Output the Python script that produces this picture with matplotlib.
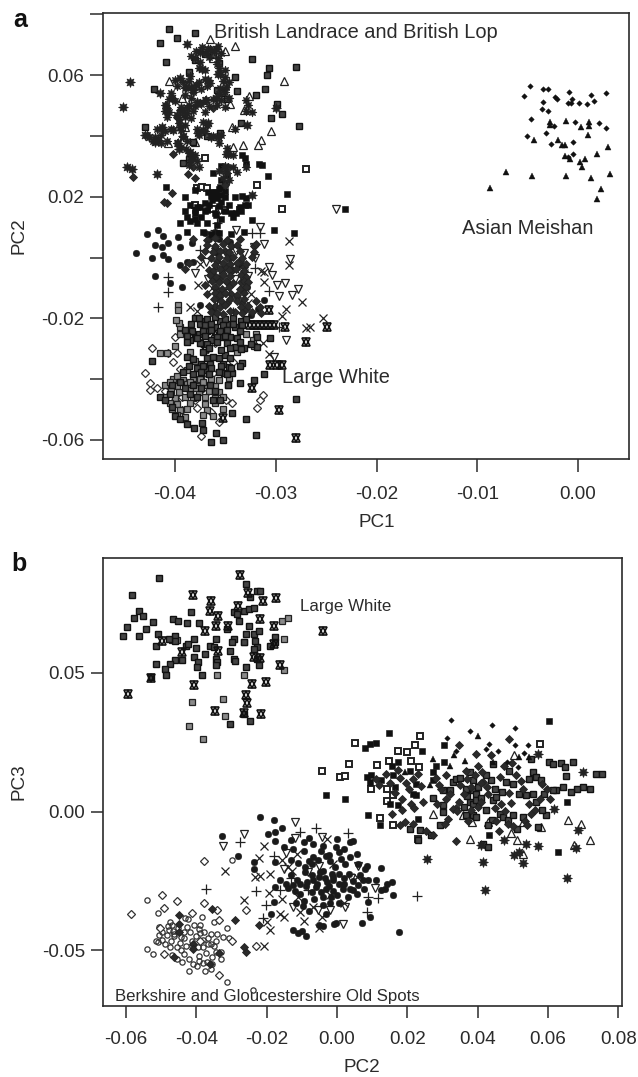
"""Two PCA scatter panels (PC1/PC2 and PC2/PC3) for the pig breed samples."""

import numpy as np
import matplotlib

matplotlib.use("Agg")
import matplotlib.pyplot as plt

plt.rcParams["font.family"] = ["Liberation Sans", "DejaVu Sans"]

W, H = 638, 1077
INK = "#2b2b2b"

# all coordinates below are in units of 1e-3

# panel a
a_meishan_dia = [(-4.8,56.4),(-5.4,53.1),(-3.5,55.5),(-3,55.3),(-2.3,52.9),(-2.05,52.2),(-0.9,54.3),(1.3,53.3),(2.75,54.1),(1.55,51.6),(-3.5,51.1),(-3.6,48.9),(-3,48.3),(-0.6,52),(-1,50.8),(-0.7,50.7),(0.1,50.7),(0.9,50.6),(-4.7,45.6),(-0.3,44.4),(2.1,44.1),(2.8,42.6),(-2.4,43.4),(-3.2,40.9),(-5.1,40),(-2.7,37.4),(-0.5,38),(-0.5,34),(-1,32.9)]
a_meishan_tri = [(-2.8,44.6),(-2.8,43.5),(-1.2,45),(0.3,43),(1.1,44.7),(1.1,43.2),(1,40.3),(-4.4,38.5),(-2,38.7),(-1.6,36.9),(-1.3,36.9),(3,36.5),(1.9,34),(-1.3,33.4),(-0.8,32.3),(0.7,32.5),(0.2,31.4),(0.4,29.6),(-7.1,28.1),(-4.6,26.9),(-1.2,26.8),(1.3,26.2),(3.2,27.4),(2.3,22.4),(-8.7,22.8),(1.9,19.3)]
a_boxed = [(-40.6,75.3),(-39.8,72.1),(-41.5,70.6),(-38,73.7),(-40.9,64.4),(-32.4,65.4),(-30.7,62.4),(-28,62.6),(-30.9,60),(-42.1,55.3),(-34,59.5),(-38.6,61.1),(-33.8,54.7),(-31.1,55.3),(-32,53.3),(-29.9,50.5),(-29.4,47.2),(-30.5,46),(-27.7,43.3),(-43,42.9),(-33.5,44.1),(-35.8,55.1),(-35.6,64),(-37,67),(-36.2,66.5),(-38,65),(-35.3,54),(-34.8,52),(-38.2,38),(-35.5,41),(-36.8,40),(-39.2,31),(-38.6,32.5),
    (-28,-46.6),(-33.6,-41.4),(-33,-53.2),(-32,-58.4),(-35.2,-60),(-36.4,-60.8),(-35.9,-57.6),(-37.3,-54.3),(-37.2,-56.7),(-34.3,-51),(-34.7,-42),(-31.2,-38.3),(-32.2,-40.3),(-33.4,-34.8),(-42.3,-34),(-41.5,-45.8),(-38.8,-54.9),(-38.1,-56.2),(-40.3,-49),(-30.6,-26.6),(-31.9,-29.3),(-34,-29.3),(-33.2,-29.9),(-31.9,-26),
    (-38,-20),(-37.5,-22),(-37,-21),(-38.3,-24),(-37.6,-25),(-36.8,-24),(-36,-23),(-35.5,-21),(-34.8,-22),(-34,-23),(-33.5,-21),(-38.5,-27),(-37.5,-28),(-36.4,-27),(-35.2,-26),(-34.5,-26),(-37.2,-31),(-36.8,-33),(-37.4,-35),(-36.5,-35),(-36.9,-37),(-37.4,-38),(-35.6,-33),(-35,-32),(-34.5,-33),(-35.2,-35),(-34.6,-36),(-35.1,-38),(-34.3,-38),(-39.5,-41),(-40.3,-42),(-39,-43),(-38.2,-42),(-37.4,-43),(-36.5,-42),(-36,-44),(-38.5,-45),(-37.8,-46),(-40.5,-45),(-41,-47),(-36.2,-47),(-35.5,-47),(-40,-52),(-39.5,-53)]
a_top_dark = [(-37.3,69.2),(-36.5,68.6),(-35.7,69.4),(-37.9,67.8),(-36.9,67.2),(-36.1,67.9),(-35.4,67.1),(-38.4,66.3),(-38,65.6),(-36.6,66),(-35.7,65.7),(-37.5,64.3),(-35.8,63.6),(-37.6,62.4),(-37,61.5),(-35.6,62.2),(-35,61.7),(-35.5,60.3),(-35,59.4),(-38.5,59.8),(-40,58.4),(-39.2,57.6),(-38.6,58.2),(-37.6,57.8),(-37,58.6),(-36.5,57.4),(-35.2,58.1),(-34.6,57.6),(-39.8,56.3),(-39,55.6),(-38.4,56.2),(-37.4,55.5),(-36.8,56.4),(-35.5,55.7),(-34.9,56.1),(-40.4,54.2),(-39,53.6),(-38.2,54.4),(-35.6,53.8),(-35,54.3),(-40.6,52.1),(-40,51.6),(-38.4,52.4),(-37,51.8),(-36.2,52.2),(-35.4,51.7),(-34.6,52.3),(-33,51.8),(-41,50.3),(-39.4,49.6),(-38.6,50.2),(-38,49.8),(-37.4,50.4),(-36.6,49.7),(-35.8,50.2),(-35,49.6),(-32.8,50.1),(-41,48.2),(-40.6,47.7),(-39.3,48.4),(-38.8,47.6),(-38.2,48.1),(-37,47.7),(-33,48.2),(-32.4,47.8),(-40.8,46.2),(-39.6,45.7),(-39,46.3),(-38.4,45.8),(-39.6,44.3),(-39,43.7),(-37.2,44.4),(-36.8,43.6),(-41.8,42.2),(-41,41.7),(-40.4,42.4),(-39.4,41.8),(-37.8,42.2),(-37,41.6),(-34,42.3),(-42.8,40.2),(-42,39.6),(-41.4,40.3),(-39.2,39.7),(-37.6,40.2),(-36.2,39.8),(-35.4,40.4),(-42.2,38.2),(-41.4,37.6),(-40.8,38.4),(-39.8,37.8),(-38.8,38.3),(-35.6,37.7),(-39.4,36.2),(-38.9,35.6),(-34.8,36.1),(-38.6,34.3),(-38,33.7),(-34.9,34.2),(-34.2,33.6),(-38.4,32.2),(-37.8,31.7),(-38.6,30.3),(-37.6,29.7),(-35,30.2),(-34.2,29.6),(-33,29.9),(-35.6,28.3),(-34.8,27.7),(-33.8,28.2),(-35.2,26.2),(-34.6,25.6)]
a_band_dark = [(-35,24.3),(-38,22.2),(-36,21.7),(-35.6,22.4),(-35,21.8),(-36.4,20.2),(-35.8,19.7),(-35.4,20.4),(-34,19.8),(-33.4,20.3),(-33,19.7),(-38.5,17.3),(-37.8,16.7),(-36.6,17.4),(-35.6,16.8),(-34.6,17.2),(-33.6,16.7),(-32.8,17.3),(-39,15.2),(-38,14.7),(-37,15.3),(-36,14.8),(-35,15.4),(-34.4,14.7),(-33.5,15.2),(-38.8,13.2),(-38,12.7),(-37.4,13.3),(-35.4,12.8),(-34.2,13.2),(-36.8,11.2),(-35.8,10.7),(-37.2,8.3),(-36.4,7.7),(-35.6,8.2),(-34.4,7.8),(-33.2,8.3)]
a_mid_dark = [(-38.2,6.2),(-36.8,5.7),(-36,6.3),(-34.8,5.8),(-33.6,6.2),(-36.8,4.2),(-36,3.7),(-35.2,4.3),(-34.4,3.8),(-33.8,4.2),(-32.2,3.7),(-32,4.3),(-37,2.2),(-36.2,1.7),(-35.5,2.3),(-34.6,1.8),(-33.6,2.2),(-32.2,1.7),(-37.4,0.2),(-36.4,-0.3),(-35.6,0.3),(-34.8,-0.2),(-34.2,0.2),(-33.4,-0.3),(-32.4,0.2),(-38.6,-1.8),(-36,-2.3),(-35.2,-1.7),(-34.5,-2.2),(-33.8,-1.8),(-33,-2.2),(-39,-3.8),(-36.2,-4.3),(-35.5,-3.7),(-34.6,-4.2),(-33.9,-3.8),(-33.2,-4.3),(-36.5,-5.8),(-35.9,-6.3),(-35.2,-5.7),(-34.5,-6.2),(-33.5,-5.8),(-33,-6.3),(-36.3,-7.8),(-35.6,-8.2),(-34.9,-7.7),(-34.2,-8.3),(-33.2,-7.8),(-32.8,-8.2),(-36,-9.8),(-35.3,-10.3),(-34.6,-9.7),(-33.6,-10.2),(-33,-9.8),(-36,-11.8),(-35.5,-12.2),(-35,-11.7),(-33.8,-12.2),(-33.2,-11.8),(-36.1,-13.8),(-35.4,-14.3),(-34.5,-13.7),(-33.8,-14.2),(-33.2,-13.8),(-32,-14.2),(-36.6,-15.8),(-35.5,-16.3),(-35,-15.7),(-33.5,-16.2),(-32.8,-15.8),(-31.6,-16.2),(-36.4,-17.8),(-35.8,-18.3),(-34.5,-17.7),(-33.4,-18.2),(-32.4,-17.8),(-31.5,-18.2)]
a_low_dark = [(-37.6,-19.8),(-36.8,-20.3),(-36,-19.7),(-35,-20.2),(-34.2,-19.8),(-33,-20.3),(-38.4,-21.8),(-37,-22.3),(-36.4,-21.7),(-35.2,-22.2),(-34.2,-21.8),(-33.4,-22.3),(-39,-23.8),(-37.2,-24.3),(-36.4,-23.7),(-35.5,-24.2),(-34.8,-23.8),(-33.6,-24.3),(-38.8,-25.8),(-37.8,-26.3),(-37,-25.7),(-35.8,-26.2),(-35,-25.8),(-33.8,-26.3),(-38.8,-27.8),(-36.8,-28.3),(-35.8,-27.7),(-34.8,-28.2),(-33.6,-27.8),(-32.5,-28.3),(-36.6,-29.8),(-35.4,-30.3),(-34.5,-29.7),(-33.5,-30.2),(-38.8,-32.8),(-38.2,-33.3),(-36.2,-32.7),(-38.6,-35.8),(-37.8,-36.3),(-37.2,-35.7),(-36.4,-36.2),(-35.4,-35.8),(-34.4,-36.3),(-33.6,-35.7),(-39.2,-37.8),(-38.2,-38.3),(-37.4,-37.7),(-36.6,-38.2),(-35.6,-37.8),(-34.8,-38.3)]
a_low_grid = [(-40.2,-39.8),(-39.2,-40.3),(-38.2,-39.7),(-37.4,-40.2),(-36.4,-39.8),(-35.6,-40.3),(-34.6,-39.7),(-41,-41.8),(-39.8,-42.3),(-38.8,-41.7),(-37.8,-42.2),(-36.8,-41.8),(-36,-42.3),(-40.4,-43.8),(-39.6,-44.3),(-38.5,-43.7),(-37.6,-44.2),(-36.6,-43.8),(-35.6,-44.3),(-41,-45.8),(-40,-46.3),(-39,-45.7),(-38.2,-46.2),(-37,-45.8),(-36,-46.3),(-35.2,-45.7),(-40.5,-47.8),(-39.8,-48.3),(-38.5,-47.7),(-37,-48.2),(-36,-47.8),(-40.3,-49.8),(-39.5,-50.3),(-38.8,-49.7),(-36.8,-50.2),(-35.2,-49.8),(-39.8,-51.8),(-39,-52.3),(-37.2,-51.7),(-36.2,-52.2)]
a_filled_sq = [(-31.7,30.7),(-30.8,26.9),(-36.2,27.9),(-40.9,23.3),(-39,20),(-28.9,20.8),(-23.1,15.8),(-28.2,7.9),(-30.2,9),(-39.5,11.2),(-38.8,8.5),(-32.4,12.5),(-35.4,18.4),(-33.1,17.3),(-36.2,21.6),(-35.9,21),(-36.7,21.6),(-35.5,23.3),(-35.4,25.5),(-37.5,16.7),(-38,15.6),(-36.8,15.6),(-35.9,14),(-33.9,14.5),(-33.1,32.6),(-33,30.9),(-33.4,33.7),(-31.4,30.5),(-37,18),(-36.3,19),(-35,20),(-34.8,27),(-35,29),(-35.4,30),(-38.5,12),(-37.8,11.5)]
a_open_sq = [(-27,29),(-29.4,15.8),(-31.9,23.7),(-37,32.6),(-37.8,22.7),(-37.3,23.3),(-36.8,22.7),(-38,17.3),(-36.2,16.1),(-35,15.6),(-33.6,15.6)]
a_tri = [(-36.5,71.8),(-34,69.5),(-35,68),(-29.2,58.1),(-35,56.7),(-32.7,53.1),(-34.5,50.4),(-33.2,48.5),(-34.3,43),(-30.5,41.7),(-31.5,38.6),(-31.8,37),(-33.3,37),(-34.2,36.4),(-39,43),(-38,38.1),(-40.7,37.8),(-40.6,58.1),(-39.3,52.3),(-36.2,65.7)]
a_star = [(-44.5,57.7),(-45.2,49.6),(-38.8,70.2),(-41.8,27.6),(-37.3,61.9),(-30,49),(-41.3,42.8),(-32.4,20.5),(-36.7,44.1),(-36.7,68.4),(-35.9,68.4),(-37.5,67.5),(-39.5,58.9),(-37.9,56.7),(-36.7,58.4),(-40.3,52.3),(-41.5,54),(-35.7,60.5),(-35.9,52.3),(-36.9,51.8),(-32.9,43.6),(-42.6,39.7),(-42,38.1),(-39.5,43),(-37.7,40.8),(-35.7,39.7),(-34.7,34.2),(-39.7,37.5),(-38.5,34.8),(-44.8,29.9),(-44.3,29),(-38.9,56),(-38.2,55),(-39.8,47),(-38.8,49),(-37.8,51),(-40.2,42),(-39.2,40),(-37.2,42),(-36.4,39.6),(-43,40.2),(-41.7,38.5),(-39.6,35.8),(-38.2,33)]
a_dark_dia = [(-44.2,26.6),(-40.2,34),(-40.8,49),(-40.9,50),(-40.8,47.8),(-41.3,42.2),(-38.2,29.9),(-38.7,27.4),(-40.3,21.1),(-40.8,18),(-41.1,18.3),(-34.7,29.9),(-35.2,28.8),(-39.8,46.3),(-39.5,48.5),(-39.2,47.4),(-37.5,50.7),(-36.2,49),(-38.4,32),(-38,26),(-35,24),
    (-36,3),(-35,2),(-34.5,0),(-35.8,-1),(-35,-3),(-34.3,-4),(-36.2,-6),(-35.6,-7),(-34.8,-8),(-36,-10),(-35.4,-11),(-34.4,-12),(-35.6,-13),(-34.8,-15),(-36,-16),(-33.5,-8),(-33.2,-10),(-33.8,-13),(-33.4,-15),(-34,-18),(-33,-17),(-35.2,-18.5),(-33.6,-1),(-33.2,-3),(-36.6,-4),(-37,-9),(-36.8,-12)]
a_circle = [(-42.8,7.7),(-41.7,8.9),(-41.2,7.2),(-43.9,1.4),(-42,4.1),(-41.3,3.3),(-40.7,4.9),(-39.7,6.8),(-39.5,3.5),(-38.3,4.9),(-42.3,-0.3),(-41.2,0.8),(-40.7,-0.6),(-42,-6.1),(-39.5,-2.5),(-38.8,-1.4),(-38.2,-1.4),(-40.5,-8.5),(-39.3,-9.8),(-37.5,-15.6),(-31.2,-14),(-36.2,-17.3),(-33.5,-2.5),(-32.9,-9.6),(-35.8,1.4),(-34.8,1.4),(-37,8),(-36.6,6),(-36,8.5),(-35.6,6),(-34.5,5),(-31.8,-17),(-32.5,-19)]
a_inv = [(-24,15.8),(-28.6,-0.6),(-31.2,4.4),(-32.2,3.5),(-30.7,-3),(-30.4,-5.8),(-29.9,-9),(-29.1,-8.5),(-29.7,-12.7),(-28.4,-12.3),(-27.8,-10.5),(-29,-27.1),(-36.7,-7.2),(-34.9,-11.8),(-38,-5.2),(-36.9,-1.4),(-33.2,1.4),(-32.1,-0.3),(-30.2,-32.6),(-33.9,2.2),(-31.6,10.1),(-33.9,9),(-35.5,15.6),(-35.8,-5),(-32.8,-6),(-35.6,-3),(-34,-7)]
a_cross = [(-28.7,5.4),(-28.7,-2.5),(-27.4,-14.5),(-29,-16.9),(-29.4,-19.2),(-25.3,-20),(-26.6,-22.8),(-27,-23.3),(-31.2,-4.7),(-31.2,-8),(-31.5,-4.5),(-38.5,-16.4),(-37.8,-17.6),(-30.7,-31.7),(-31.3,-28),(-37.7,-9),(-33.9,-4.1),(-33.2,-5.2),(-36.3,-10),(-37.5,-2),(-35.2,-4),(-32.5,-12),(-32.8,-15)]
a_plus = [(-32.4,8),(-35.8,11.2),(-31.6,8),(-41.7,-16.4),(-40.7,-6.3),(-40.7,-11.2),(-32.1,-3.6),(-30.7,-11),(-34.2,-17.8),(-29.7,-22.8),(-37.5,2.5),(-35.8,-14),(-36,9),(-37.8,22.5)]
a_grid = [(-38.5,-41),(-37.5,-40),(-39.8,-39),(-40.5,-41),(-37.9,-43),(-37.2,-41),(-36.4,-40),(-38.8,-37),(-38,-34),(-38.5,-31),(-40,-29),(-39.5,-25),(-39.5,-23),(-39.6,-21.5),(-39.9,-20.5),(-39.7,-15.6),(-39.7,-17.3),(-41.5,-31.5),(-40.8,-31.5),(-34.7,-42),(-33.8,-31),(-33,-25),(-32.3,-27),(-32,-25),(-32.2,-29)]
a_hex = [(-24.9,-22.8),(-29.1,-22.8),(-27,-27.7),(-29.7,-50),(-28,-59.5),(-35.2,-52.9),(-30.7,-17.3),(-30.6,-35.4),(-29.9,-35.4),(-29.4,-35.4),(-32.4,-43),(-32.6,-22.2),(-32.2,-22.2),(-31.8,-22.2),(-31.4,-22.2),(-31,-22.2),(-30.6,-22.2),(-30.2,-22.2),(-36,-25),(-37,-30),(-38,-26)]
a_open_dia = [(-42.3,-29.9),(-43,-38.1),(-42.5,-41.2),(-42.5,-43.4),(-40.7,-31.5),(-40,-26),(-39.8,-31.5),(-31.9,-49.4),(-31.6,-46.9),(-31.3,-45.2),(-34.3,-48),(-34.9,-46.9),(-37.4,-58.7),(-37.8,-49.4),(-36.4,-50.7),(-35.6,-54),(-39.3,-50.2),(-40,-47),(-40.2,-34.3),(-39.5,-36.5),(-37.5,-40.3),(-36.9,-38.1),(-36.2,-38),(-34.2,-34.3),(-36,-28.2),(-37.4,-28.2),(-41.8,-43),(-41,-44),(-38,-47),(-37,-45),(-39.3,-46)]

# panel b
b_boxed = [(-50.6,84.2),(-58.3,78),(-56.2,72.5),(-57.7,69.9),(-55,70.7),(-52.3,68.3),(-59.8,66.5),(-60.8,63.5),(-54.2,65.7),(-56.2,63.3),(-51,63.9),(-51.3,59.9),(-46.5,69.5),(-45.2,68.7),(-42.6,68),(-41.4,71.9),(-39.1,68),(-46.1,63.5),(-46.1,61.5),(-47.8,62.1),(-40.7,62.3),(-43,59.9),(-42.4,60.3),(-40.2,59),(-44,54.7),(-46.1,54.7),(-47.6,53.3),(-51.5,53.3),(-49,51.5),(-48.7,49.4),(-52.9,48.5),(-40.5,55.7),(-39.5,53.9),(-39.7,52.3),(-38.4,49.1),(-37.4,56.9),(-36.2,59.9),(-34.5,62.3),(-35,59.3),(-34.5,55.1),(-34.1,53.9),(-34.5,52.7),(-30.3,58.1),(-29.3,55.1),(-28.9,54.2),(-29.3,62.3),(-29.8,61.1),(-31.4,65.7),(-26,82.2),(-26.3,61.1),(-26,64.1),(-25.1,66.8),(-26.5,72.5),(-25.1,73.1),(-23.7,73.5),(-29.3,71.9),(-28.4,71.3),(-27.9,68.9),(-22.7,79.7),(-21.8,79.7),(-24.8,77.3),(-23.7,64.1),(-22.3,65.3),(-22.7,59.3),(-23.7,58.7),(-22.3,52.7),(-26,52.3),(-17.5,62.9),(-17.5,61.1),(-18.9,59.9),(-23.2,61.7),(-22.7,55.1),(-30.3,31.6),(-24.8,32.5),(-26.5,35.2),
    (60.3,17.8),(61.5,17.2),(63.8,17.5),(67.2,17.8),(64.8,16),(65,12.7),(73.5,13.4),(75.4,13.6),(71.9,8.2),(69.8,8.8),(68.3,8.2),(66.4,7),(64.1,8.8),(62.2,7.6),(61.3,7.6),(55.6,14.2),(54.7,11.8),(56.5,12.4),(57.9,11.2),(58.9,6.4),(56.5,3.4),(59.4,-1.4),(58.4,0.4),(57,-5.6),(55.1,19),(49,14.8),(48,10.6),(49.9,10),(51.8,6.4),(53.7,5.8),(55.6,6.4),(43.8,11.2),(42.4,13),(44.3,17.2),(37.7,14.2),(38.6,11.2),(38.6,7.6),(36.7,8.2),(39.5,6.4),(37.7,3.4),(38.6,2.8),(39.5,4),(36.7,-1.4),(38.6,-1.4),(39.5,-2),(46.2,-0.8),(47.1,-2),(48.5,-3.2),(50,-1.4),(52.8,-2),(51.3,-6.2),(30.1,2.2),(30.1,-0.2),(29.2,-5),(20.7,-6.2),(23.5,-6.8),(26.8,-8.6),(23,-10.4),(32,7.6),(33,10.6),(33.9,11.8),(30.1,7.6),(27.3,5),(44.3,4),(45.2,5.2),(42.4,0.4),(41.4,-11.6),(42.9,-12.8),(40,9),(41,5),(37,5.5),(36,1.5),(45,8),(47,7),(35,12),(44,-3),(43,-5)]
b_right_dark = [(11,11.8),(12,9.6),(14,13.4),(15,10.2),(17.2,15),(18,12.2),(16.6,6.6),(18.4,4.4),(19.6,10.4),(20.4,8),(21.6,11.8),(23,13.4),(24,9.2),(24.4,3.6),(22,1.2),(18.6,0.4),(19.4,-3.8),(21.6,-4.6),(25.4,-7.2),(28,12.2),(29,9.4),(31,13.2),(28.4,2.6),(31,4.6),(33,1),(31.6,-2.8),(30.6,-4.4),(34.6,3.4),(35,9.6),(36,6.4),(34.2,0.2),(37,11.6),(38,9),(39.2,13.2),(41,10.2),(40,16.6),(41.2,14.4),(38,0.4),(37.2,-3.4),(40,1.6),(41,3.4),(43,6.4),(42.6,9),(44.8,1.2),(46.6,2.6),(45.2,-3.4),(47.8,0.2),(49.4,3),(49,6.6),(46.4,12.4),(47.4,16.4),(49.6,17.6),(51,13.2),(52.4,11),(53,8.2),(54.6,2.8),(55,-0.8),(53.4,-3.6),(56.2,0.6),(57.6,4.4),(59.8,8.2),(60.6,4.6),(58.2,9.8),(54,-5),(50,-5.4),(46,-7)]
b_mid_dark = [(-13,-17.4),(-11,-18.6),(-9,-20),(-7,-19),(-5.4,-17.6),(-3.2,-16),(-2,-18),(0.6,-14.6),(2.4,-19),(-12,-28.8),(-10.4,-29.6),(-8.8,-27),(-7,-23),(-5,-23.6),(-3.4,-24),(-2.2,-27),(-1,-28.8),(0.6,-22.6),(2,-26),(3.4,-22.4),(4.6,-25),(6,-26.6),(6.6,-23),(-6,-27.4),(-4.6,-29),(-6.4,-31.4),(-9.4,-32.4),(-11.6,-33),(-14.6,-26),(-16.2,-24.6),(-17.6,-27.4),(-4,-33.6),(-1.6,-31),(0.6,-33.2),(3.6,-27.8),(7.6,-28),(11,-24.6),(12.6,-28.4),(-15,-12.8),(-13,-10.4),(-12.4,-13.6),(-8,-9.6),(-4.6,-14.4),(-2.2,-15.6),(2,-13.6),(-8,-36),(-9.6,-34),(-3,-37)]
b_left_open = [(-50.6,-44.6),(-49.8,-46.2),(-48,-41.4),(-46.6,-43),(-46.2,-45),(-45.2,-42),(-44.6,-47.6),(-43.6,-45.8),(-42.6,-41.6),(-41.8,-43.6),(-40.6,-41),(-40,-45),(-38.8,-40.8),(-38,-46.4),(-36.8,-45.6),(-45.6,-48.8),(-44.2,-50),(-42.8,-48.4),(-39.6,-49),(-38,-49),(-36.6,-48),(-46.8,-51.8),(-44,-54.2),(-41,-55),(-38,-54.6),(-35.4,-52.6),(-46.4,-44.2),(-48.8,-47.8),(-43.2,-38.6),(-38.4,-38.2)]
b_grid = [(-47,62),(-45.5,62),(-26.3,61.2),(-15.6,68.9),(-13.9,69.8),(-15.2,62.3),(-31.7,34.5),(-32.5,40.5),(-41.1,39.4),(-38.2,26.2),(-42.2,31),(-26.5,49.1),(-34.1,49.4),(-15.2,51.1)]
b_hex = [(-27.6,85.2),(-40.9,78),(-35.8,75.8),(-25.3,78.8),(-21,75.9),(-17.3,77.1),(-28.2,74.3),(-36.2,72.2),(-33.9,70.7),(-34.5,67.1),(-30.9,66.8),(-37.4,65.1),(-21.8,69.5),(-17.8,66.8),(-4.1,65),(-49.8,61.7),(-44,57.5),(-33.9,57.9),(-21.8,55.3),(-23.7,55.9),(-16.3,52.7),(-18,60.5),(-40.5,45.5),(-24.1,46.1),(-20.2,46.9),(-59.3,42.5),(-25.8,41.9),(-25.6,39.2),(-34.6,36.4),(-26.3,35.5),(-21.6,35.1),(-52.9,48.2)]
b_open_sq = [(-4.2,14.6),(5.1,24.8),(3.5,17.2),(0.8,12.4),(2.3,12.7),(23.7,27.2),(22.2,23.9),(17.4,21.8),(19.9,21.5),(11.5,16.9),(14.8,18.1),(21.1,18.4),(23.2,16),(9.8,8.2),(14.3,8.2),(14.2,3.8),(12.2,-2.2),(15.8,-5),(23,-9.8),(57.8,24.5),(16,5.8)]
b_filled_sq = [(14.8,28.3),(11,24.7),(9.5,24.2),(7.9,22.9),(-3.1,5.9),(2.3,4.4),(12.2,-5),(8.9,-1.4),(24.2,21.7),(30.4,23.9),(17.4,17.8),(30.3,17.8),(28.2,16.6),(23,-2.6),(62.7,-14.6),(43.3,-8.4),(65.5,3.4),(60.3,32.6),(8.4,12.4),(9.8,13),(9.3,10.6),(15.5,16.6),(15.9,13),(12.6,11.2),(16.4,8.8),(17.4,2.2),(15,2.8),(20.7,14.8),(22.5,10),(21.6,6.4),(22.5,5.8),(27.3,14.2),(27.3,11.2)]
b_dark_dia = [(49,26.3),(34.8,24.1),(39.5,20.9),(15.5,-0.8),(21.1,2.8),(18,-5),(33.9,-10.8),(27.3,-8.6),(33.9,1.4),(29.6,8.2),(32,6.4),(41.4,10.6),(36.7,14.8),(43.8,20.3),(48.5,-4.4),(-44.9,-37.5),(-44.9,-40.5),(-44.9,-43.5),(-28.9,-39.1),(-26,-50.8),(-26.5,-49),(-22.3,-40.8),(-35.5,-35.1),(-46.3,-52.6),(-41,-47.8),(-41,-49.5),(-33.5,-51),(-36,-55)]
b_star = [(25.7,-17),(41.4,-18.2),(42.2,-28.2),(52.8,-18.6),(65.3,-24),(70,14.2),(47.6,-10.4),(53.7,-11.9),(57,-12.5),(67.9,-13.1),(68.6,-6.8),(61.7,1),(50.4,-15.8),(51.8,-14.6),(57,20.9),(41,-12.2)]
b_tri = [(50.4,20.3),(27.3,-1),(37.9,-9.8),(42.9,-3.8),(65.7,-3.2),(69.3,-4.6),(71.8,-10.2),(67.4,-12.2),(53,-15.5),(49.5,-7.8),(51.3,-10.4),(57.9,-5.6),(38.3,-3.8),(35.8,-1.4),(52.8,-3.8)]
b_small_dia = [(32.5,32.9),(37.7,28.9),(44.1,31.3),(50.7,30.2),(31.3,26.6),(43.3,24.2),(50.7,23.9),(54.2,24.1),(45.7,21.7),(42.4,22.4),(53.2,21.2),(48.3,18),(51.5,16),(33.9,22)]
b_small_tri = [(40,27.2),(33.2,20.3),(27.3,19),(36.4,18.1),(32.2,16.3),(44.3,17.8),(26.3,9.4),(19.3,14.2),(51.8,19.6),(54.6,19.6)]
b_open_circle = [(-54.1,-32.1),(-51,-36.6),(-54.1,-49.8),(-52.3,-51.4),(-42.1,-57.4),(-39.7,-55.9),(-37.4,-57.4),(-35.9,-56.8),(-31.4,-61.4),(-23.9,-64.4),(-29.8,-17.4),(-31.2,-42.1),(-35,-39.9),(-42.3,-38.7),(-47.6,-39.9),(-46.8,-40.8),(-47.7,-42.9),(-51.5,-46.6),(-47.5,-49),(-45.4,-53.2),(-42.1,-53.2),(-39.3,-52),(-37.1,-51.1),(-34.5,-50.8),(-33.1,-53.2),(-39.3,-53.8),(-43.5,-51.4),(-41.1,-48.4),(-35.9,-44.2),(-34.1,-44.2),(-32.4,-45.4),(-30.8,-45.6),(-34.5,-46.6),(-35,-48.4),(-37.8,-43.5),(-39.3,-42.3),(-43.5,-43.5),(-44.4,-45.4),(-47.3,-46.6),(-48.2,-44.7),(-50.6,-41.8),(-49.6,-43.5),(-51,-47.2),(-41.1,-46.6),(-38.8,-44),(-35.9,-47.8),(-33.1,-50.8),(-35.5,-55),(-37,-54.4)]
b_open_dia = [(-58.6,-36.9),(-49.8,-30.3),(-45.4,-32.4),(-49.2,-34.8),(-37.8,-17.7),(-37.8,-33.1),(-26,-35.4),(-34.1,-35.5),(-41.1,-36.6),(-33.6,-39.3),(-50.4,-42),(-49.2,-51.4),(-38.8,-46.6),(-29.8,-46.6),(-33.6,-58.9),(-23,-48.6)]
b_circle = [(-22,-2),(-18,-3),(-32.8,-8.7),(-28.2,-16.2),(-19.7,-8.1),(-17.7,-7.5),(-15.5,-6),(-17.5,-10.7),(-23.5,-18.3),(-23.5,-20.9),(-17.5,-18.3),(12.4,-20.5),(17.7,-43.5),(7,-40.2),(-12.5,-42.9),(-8.9,-44.8),(9.4,-37.9),(-18.8,-36.9),(-13.8,-27.5),(-9.5,-11.1),(-6.7,-11.7),(-3.9,-12.3),(-0.1,-9.9),(4.6,-10.5),(3.7,-11),(-0.4,-12.9),(5.6,-15.3),(3.7,-16.5),(7.9,-20.7),(8.4,-19.5),(6.1,-18.9),(8.9,-24.9),(7.5,-24.9),(15.5,-25.5),(14.1,-26.1),(13.6,-27.9),(16,-30.3),(8.9,-32.7),(5.6,-29.7),(4.6,-28.5),(1.8,-27.9),(-1,-24.9),(-2.9,-25.5),(-4.8,-21.9),(-3.9,-21.3),(-1.5,-22.5),(-10.5,-26.1),(-11.4,-24.9),(-12.4,-26.7),(-8.6,-25.5),(-6.7,-24.9),(-5.7,-26.1),(-18,-32.7),(-9.5,-14.1),(-6.7,-16.5),(-1.1,-23.7),(0.5,-26),(-3,-28),(-7,-29),(-4,-31),(0,-30),(2,-24),(-0.5,-20),(-9,-22),(-13,-23),(-2,-33),(3,-31),(-8,-18),(1,-17),(-5,-41),(-4,-41.4),(-0.8,-40.5),(-0.2,-40.2),(-10,-43),(-11,-44)]
b_plus = [(-27.6,-11.1),(-37.2,-27.9),(-22.9,-28.8),(22.6,-30.6),(-6,-5.9),(3,-7.8),(-10.6,-7.5),(11.7,-31.2),(8.4,-36.3),(-20.2,-33.9),(-21.1,-38.4),(-18,-15.9),(-8.1,-28.5),(-16.1,-28.5),(8.9,-30.9),(-13,-24)]
b_cross = [(-31.7,-21.3),(-26.5,-31.8),(-20.8,-48.4),(-19,-42.7),(-5.1,-42.1),(-9.5,-39.7),(-23.2,-23.5),(-21.8,-23.1),(-20.8,-12.3),(-22.3,-16.7),(-15.7,-17.4),(-11.4,-15.3),(-19.4,-29.5),(-15.7,-31.5),(-16.1,-36.9),(-10.5,-36.3),(-4.3,-38.1),(-19.9,-39.9),(-2.9,-9.9),(5.6,-23.7),(-1,-18.9),(-12.8,-21.3),(-19,-22.5),(-6.7,-34.5),(-15,-38),(-11,-31),(-2,-30),(-14,-20),(2,-33)]
b_inv = [(-26.5,-8),(-32.5,-12.6),(-11.9,-3.9),(-11.9,-9.5),(-14.4,-15),(-4.3,-9.3),(-12.5,-34.5),(2.3,-34.5),(-2,-35.5),(-5.3,-35.7),(1.6,-40.5),(10.8,-27.6),(3.9,-23.9),(-8.1,-21.9),(-15.2,-20.7),(-5,-19.5),(6.1,-19.5)]

a_yticks = [-60, -40, -20, 0, 20, 40, 60, 80]
a_ylabels = ["-0.06", "", "-0.02", "", "0.02", "", "0.06", ""]
a_xticks = [-40, -30, -20, -10, 0]
a_xlabels = ["-0.04", "-0.03", "-0.02", "-0.01", "0.00"]
b_xticks = [-60, -40, -20, 0, 20, 40, 60, 80]
b_xlabels = ["-0.06", "-0.04", "-0.02", "0.00", "0.02", "0.04", "0.06", "0.08"]
b_yticks = [-50, 0, 50]
b_ylabels = ["-0.05", "0.00", "0.05"]

STYLES = {
    "boxed": dict(marker="s", ms=4.4, mfc="#444444", mec="#111111", mew=1.0),
    "grid": dict(marker="s", ms=4.4, mfc="#8a8a8a", mec="#222222", mew=0.9),
    "filled_sq": dict(marker="s", ms=3.8, mfc="#111111", mec="#111111", mew=0.4),
    "open_sq": dict(marker="s", ms=4.2, mfc="white", mec="#222222", mew=1.4),
    "tri": dict(marker="^", ms=5.8, mfc="white", mec="#222222", mew=0.9),
    "inv": dict(marker="v", ms=5.8, mfc="white", mec="#222222", mew=0.9),
    "star": dict(marker=(8, 1, 0), ms=7.2, mfc="#222222", mec="#222222", mew=0.5),
    "dark_dia": dict(marker="D", ms=4.2, mfc="#2a2a2a", mec="#222222", mew=0.6),
    "open_dia": dict(marker="D", ms=4.4, mfc="white", mec="#333333", mew=0.9),
    "small_dia": dict(marker="D", ms=2.8, mfc="#111111", mec="#111111", mew=0.3),
    "small_tri": dict(marker="^", ms=5.0, mfc="#111111", mec="#111111", mew=0.3),
    "circle": dict(marker="o", ms=4.8, mfc="#1a1a1a", mec="#1a1a1a", mew=0.3),
    "open_circle": dict(marker="o", ms=3.8, mfc="none", mec="#333333", mew=0.9),
    "plus": dict(marker="+", ms=7.5, mec="#222222", mew=0.9),
    "cross": dict(marker="x", ms=5.6, mec="#222222", mew=0.9),
}


def scatter(ax, points, style, **overrides):
    xy = np.array(points) * 1e-3
    ax.plot(xy[:, 0], xy[:, 1], ls="none", **{**STYLES[style], **overrides})


def hexagram(ax, points):
    # two overlaid triangles, the picture's star of David marker
    xy = np.array(points) * 1e-3
    for marker in ("^", "v"):
        ax.plot(xy[:, 0], xy[:, 1], ls="none", marker=marker, ms=5.8, mfc="none", mec="#111111", mew=1.2)


def panel(box, xlim, ylim, xticks, xlabels, yticks, ylabels, tick_len):
    left, top, right, bottom = box
    ax = fig.add_axes([left / W, 1 - bottom / H, (right - left) / W, (bottom - top) / H])
    ax.set_xlim(*xlim)
    ax.set_ylim(*ylim)
    ax.set_xticks(np.array(xticks) * 1e-3, xlabels)
    ax.set_yticks(np.array(yticks) * 1e-3, ylabels)
    ax.tick_params(length=tick_len, width=1.1, color=INK, labelcolor=INK, labelsize=13.6)
    ax.tick_params(axis="x", pad=9.5)
    ax.tick_params(axis="y", pad=4)
    for spine in ax.spines.values():
        spine.set_linewidth(1.2)
        spine.set_color(INK)
    return ax


fig = plt.figure(figsize=(W / 100, H / 100), dpi=100)

ax_a = panel((103, 13, 629, 459), (-0.04715, 0.00506), (-0.06625, 0.0804),
             a_xticks, a_xlabels, a_yticks, a_ylabels, 9.6)
scatter(ax_a, a_meishan_dia, "small_dia")
scatter(ax_a, a_meishan_tri, "small_tri")
scatter(ax_a, a_open_dia, "open_dia")
scatter(ax_a, a_low_grid, "grid")
scatter(ax_a, a_grid, "grid")
scatter(ax_a, a_tri, "tri")
scatter(ax_a, a_inv, "inv")
scatter(ax_a, a_open_sq, "open_sq")
hexagram(ax_a, a_hex)
scatter(ax_a, a_cross, "cross")
scatter(ax_a, a_plus, "plus")
scatter(ax_a, a_circle, "circle")
scatter(ax_a, a_boxed, "boxed")
scatter(ax_a, a_low_dark, "boxed")
scatter(ax_a, a_band_dark, "filled_sq")
scatter(ax_a, a_filled_sq, "filled_sq")
scatter(ax_a, a_dark_dia, "dark_dia")
scatter(ax_a, a_mid_dark, "dark_dia")
scatter(ax_a, a_top_dark, "star", ms=6.4)
scatter(ax_a, a_star, "star")

ax_a.text(-0.0361, 0.0741, "British Landrace and British Lop", fontsize=14.4, color=INK, va="center")
ax_a.text(-0.0294, -0.0396, "Large White", fontsize=14.4, color=INK, va="center")
ax_a.text(-0.0115, 0.0094, "Asian Meishan", fontsize=14.4, color=INK, va="center")

ax_b = panel((103, 558, 622, 1006), (-0.0665, 0.0810), (-0.0702, 0.0915),
             b_xticks, b_xlabels, b_yticks, b_ylabels, 8.8)
scatter(ax_b, b_open_circle, "open_circle")
scatter(ax_b, b_left_open, "open_circle")
scatter(ax_b, b_open_dia, "open_dia")
scatter(ax_b, b_tri, "tri")
scatter(ax_b, b_inv, "inv")
scatter(ax_b, b_open_sq, "open_sq")
scatter(ax_b, b_grid, "grid")
scatter(ax_b, b_cross, "cross")
scatter(ax_b, b_plus, "plus")
scatter(ax_b, b_circle, "circle")
scatter(ax_b, b_mid_dark, "circle")
scatter(ax_b, b_boxed, "boxed")
scatter(ax_b, b_filled_sq, "filled_sq")
scatter(ax_b, b_dark_dia, "dark_dia")
scatter(ax_b, b_right_dark, "dark_dia")
scatter(ax_b, b_star, "star")
scatter(ax_b, b_small_dia, "small_dia")
scatter(ax_b, b_small_tri, "small_tri")
hexagram(ax_b, b_hex)

ax_b.text(-0.0105, 0.0741, "Large White", fontsize=12.2, color=INK, va="center")
ax_b.text(-0.0632, -0.0666, "Berkshire and Gloucestershire Old Spots", fontsize=12.1, color=INK, va="center")

fig.text(377 / W, 1 - 523 / H, "PC1", fontsize=13.6, color=INK, ha="center", va="center")
fig.text(19 / W, 1 - 236 / H, "PC2", fontsize=13.6, color=INK, ha="center", va="center", rotation=90)
fig.text(362 / W, 1 - 1068 / H, "PC2", fontsize=13.6, color=INK, ha="center", va="center")
fig.text(19 / W, 1 - 782 / H, "PC3", fontsize=13.6, color=INK, ha="center", va="center", rotation=90)
fig.text(13 / W, 1 - 20 / H, "a", fontsize=18, fontweight="bold", color="#111111", va="center")
fig.text(11 / W, 1 - 564 / H, "b", fontsize=18, fontweight="bold", color="#111111", va="center")

fig.savefig("out.png", dpi=100)
